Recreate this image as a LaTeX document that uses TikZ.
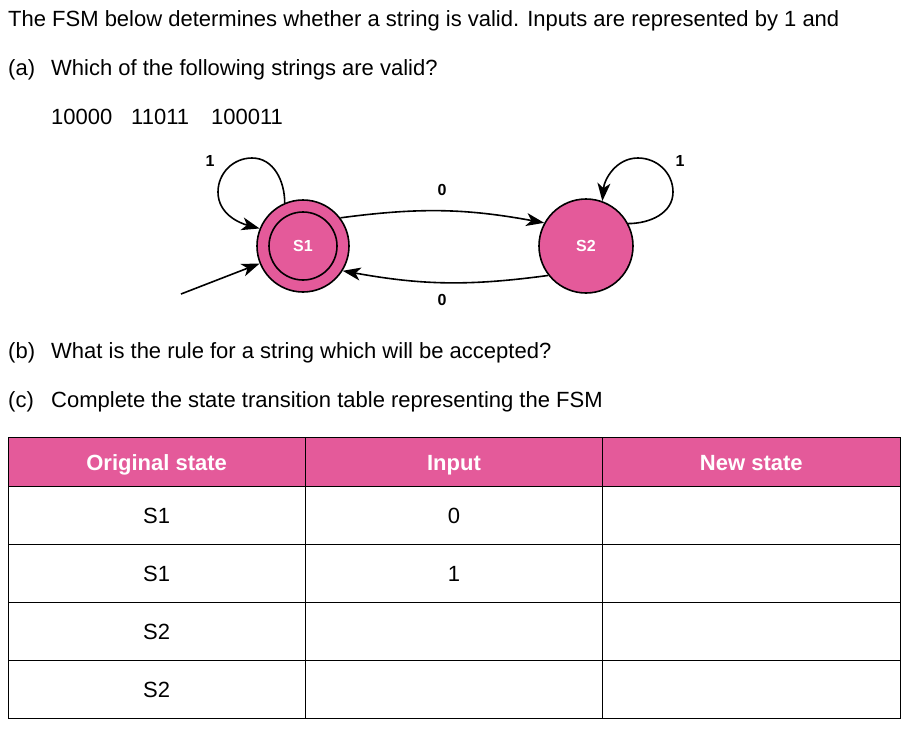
\documentclass[tikz,border=0pt]{standalone}
\usepackage{fontspec}
\setmainfont{Liberation Sans}
\usetikzlibrary{arrows.meta,positioning}
\definecolor{fsmpink}{RGB}{228,90,154}
\tikzset{
    fsmstate/.style={circle, draw, line width=1.6pt, fill=fsmpink,
                     minimum size=#1, inner sep=0pt, text=white,
                     font=\fontsize{16}{18}\selectfont\bfseries},
    headcell/.style={draw, line width=0.8pt, fill=fsmpink, text=white,
                     minimum width=297.33pt, minimum height=49pt,
                     text height=18pt, text depth=0pt,
                     inner sep=0pt, font=\fontsize{22}{26}\selectfont\bfseries},
    bodycell/.style={draw, line width=0.8pt, minimum width=297.33pt,
                     minimum height=58pt, inner sep=0pt,
                     text height=16pt, text depth=0pt,
                     font=\fontsize{22}{26}\selectfont},
    qtext/.style={anchor=base west, inner sep=0pt,
                  font=\fontsize{22}{26}\selectfont},
}

\begin{document}
\begin{tikzpicture}[
    x=1pt, y=-1pt,
    arr/.style={-{Stealth[length=18pt, width=13pt, inset=5pt]}, line width=1.6pt},
    elabel/.style={font=\fontsize{16}{18}\selectfont\bfseries, inner sep=0pt}
]
    \useasboundingbox (0,0) rectangle (918,734);

    % question text
    \node[qtext] (intro) at (8,26) {The FSM below determines whether a string is valid. Inputs are represented by 1 and};
    \node[qtext] (qa) at (8,75.5) {(a)};
    \node[qtext] (qatext) at (51,75.5) {Which of the following strings are valid?};
    \node[qtext] (str1) at (51,124) {10000};
    \node[qtext] (str2) at (131,124) {11011};
    \node[qtext] (str3) at (211,124) {100011};
    \node[qtext] (qb) at (8,358) {(b)};
    \node[qtext] (qbtext) at (51,358) {What is the rule for a string which will be accepted?};
    \node[qtext] (qc) at (8,407) {(c)};
    \node[qtext] (qctext) at (51,407) {Complete the state transition table representing the FSM};

    % state machine
    \node[fsmstate=92pt] (s1) at (303,246) {};
    \node[fsmstate=68pt] (s1in) at (303,246) {S1};
    \node[fsmstate=94pt] (s2) at (586,246) {S2};
    \coordinate (start) at (181,294);

    \draw[arr] (start) -- (s1.202);
    \draw[arr] (s1.37) to[bend left=9] (s2.151);
    \draw[arr] (s2.218) to[bend left=9] (s1.328);
    \draw[arr] (s1.113) to[out=90, in=0] (252,158) to[out=180, in=90] (218,192)
        to[out=-90, in=165] (s1.158);
    \draw[arr] (s2.28) to[out=0, in=-90] (673,192) to[out=90, in=0] (638,158)
        to[out=180, in=85] (s2.70);

    \node[elabel] (l1a) at (210,161) {1};
    \node[elabel] (l1b) at (680,161) {1};
    \node[elabel] (l0a) at (442,190) {0};
    \node[elabel] (l0b) at (442,300) {0};

    % transition table
    \foreach \txt [count=\i] in {Original state, Input, New state}
        \node[headcell] (h\i) at ({8+297.33*(\i-0.5)},461.5) {\txt};
    \foreach \st/\inp [count=\r] in {S1/0, S1/1, S2/{}, S2/{}} {
        \node[bodycell] (r\r c1) at (156.67,{486+58*(\r-0.5)}) {\st};
        \node[bodycell] (r\r c2) at (454,{486+58*(\r-0.5)}) {\inp};
        \node[bodycell] (r\r c3) at (751.33,{486+58*(\r-0.5)}) {};
    }
\end{tikzpicture}
\end{document}
